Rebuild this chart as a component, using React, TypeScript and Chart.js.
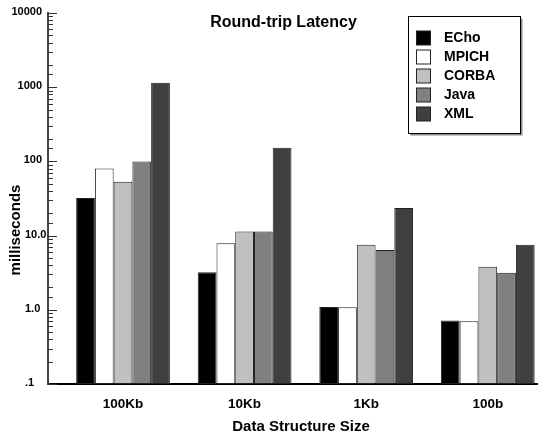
import { useEffect, useRef } from "react";
import { Chart, registerables } from "chart.js";

Chart.register(...registerables);

const categories = ["100Kb", "10Kb", "1Kb", "100b"];
const seriesNames = ["ECho", "MPICH", "CORBA", "Java", "XML"];
const echoValues = [32, 3.2, 1.09, 0.72];
const mpichValues = [80, 7.9, 1.08, 0.7];
const corbaValues = [53, 11.4, 7.5, 3.8];
const javaValues = [100, 11.4, 6.4, 3.16];
const xmlValues = [1150, 153, 23.5, 7.5];
const seriesColors = ["#000000", "#ffffff", "#c0c0c0", "#808080", "#404040"];
const yMajorLabels: [number, string][] = [
  [0.1, ".1"],
  [1, "1.0"],
  [10, "10.0"],
  [100, "100"],
  [1000, "1000"],
  [10000, "10000"],
];

const FONT = "'Liberation Sans', Arial, Helvetica, sans-serif";

function majorLabel(v: number): string | null {
  for (const [val, lab] of yMajorLabels) {
    if (Math.abs(v - val) / val < 1e-6) return lab;
  }
  return null;
}

const decorPlugin = {
  id: "decor",
  afterDraw(chart: any) {
    const ctx = chart.ctx as CanvasRenderingContext2D;
    const ys = chart.scales.y;
    const area = chart.chartArea;
    ctx.save();
    // inward tick marks on y axis
    ctx.strokeStyle = "#333";
    ctx.lineWidth = 1;
    ys.ticks.forEach((t: any) => {
      const py = Math.round(ys.getPixelForValue(t.value)) + 0.5;
      const major = majorLabel(t.value) !== null;
      ctx.beginPath();
      ctx.moveTo(area.left, py);
      ctx.lineTo(area.left + (major ? 9 : 5), py);
      ctx.stroke();
    });

    // y tick labels (integers right-aligned, decimals left-aligned)
    ctx.fillStyle = "#000";
    ctx.font = `bold 11px ${FONT}`;
    ctx.textBaseline = "middle";
    yMajorLabels.forEach(([val, lab]) => {
      const py = ys.getPixelForValue(val) - 1;
      if (lab.includes(".")) {
        ctx.textAlign = "left";
        ctx.fillText(lab, 25, py);
      } else {
        ctx.textAlign = "right";
        ctx.fillText(lab, 42, py);
      }
    });

    // title
    ctx.font = `bold 16px ${FONT}`;
    ctx.textAlign = "center";
    ctx.textBaseline = "alphabetic";
    ctx.fillText("Round-trip Latency", 283.5, 27);

    // y title
    ctx.save();
    ctx.translate(15.5, 230);
    ctx.rotate(-Math.PI / 2);
    ctx.font = `bold 15px ${FONT}`;
    ctx.textBaseline = "middle";
    ctx.fillText("milliseconds", 0, 0);
    ctx.restore();

    // x title
    ctx.font = `bold 15px ${FONT}`;
    ctx.textBaseline = "alphabetic";
    ctx.fillText("Data Structure Size", 301, 430.5);

    // legend
    const bx = 408.5, by = 16.5, bw = 112, bh = 117;
    ctx.fillStyle = "#888";
    ctx.fillRect(bx + 2, by + 2, bw, bh);
    ctx.fillStyle = "#fff";
    ctx.fillRect(bx, by, bw, bh);
    ctx.strokeStyle = "#000";
    ctx.lineWidth = 1;
    ctx.strokeRect(bx, by, bw, bh);
    ctx.font = `bold 14px ${FONT}`;
    ctx.textAlign = "left";
    ctx.textBaseline = "middle";
    chart.data.datasets.forEach((ds: any, i: number) => {
      const cy = 38 + i * 19;
      ctx.fillStyle = ds.backgroundColor;
      ctx.fillRect(416.5, cy - 7, 14, 14);
      ctx.strokeStyle = "#222";
      ctx.strokeRect(416.5, cy - 7, 14, 14);
      ctx.fillStyle = "#000";
      ctx.fillText(ds.label, 444, cy + 0.5);
    });
    ctx.restore();
  },
};

export default function App() {
  const ref = useRef<HTMLCanvasElement | null>(null);
  useEffect(() => {
    if (!ref.current) return;
    const allValues = [echoValues, mpichValues, corbaValues, javaValues, xmlValues];
    const chart = new Chart(ref.current, {
      type: "bar",
      data: {
        datasets: seriesNames.map((name, si) => ({
          label: name,
          data: allValues[si].map((v, i) => ({ x: i, y: v })),
          backgroundColor: seriesColors[si],
          borderColor: "#222",
          borderWidth: 1,
          borderSkipped: false,
          categoryPercentage: 0.771,
          barPercentage: 1,
        })),
      },
      options: {
        animation: false,
        responsive: false,
        devicePixelRatio: 1,
        layout: { padding: { top: 13, left: 0, right: 0, bottom: 0 } },
        plugins: {
          legend: { display: false },
          title: { display: false },
          tooltip: { enabled: false },
        },
        scales: {
          x: {
            type: "linear",
            offset: false,
            min: -0.617,
            max: 3.413,
            grid: { display: false, offset: false, drawTicks: false },
            border: { display: true, color: "#000", width: 2 },
            afterBuildTicks: (axis: any) => {
              axis.ticks = categories.map((_, i) => ({ value: i }));
            },
            afterFit: (axis: any) => {
              axis.height = 50;
            },
            ticks: {
              autoSkip: false,
              maxRotation: 0,
              padding: 12,
              color: "#000",
              font: { family: FONT, size: 13.5, weight: "bold" },
              callback: (v: any) => categories[Math.round(Number(v))] ?? "",
            },
          },
          y: {
            type: "logarithmic",
            min: 0.1,
            max: 10000,
            grid: { display: false, drawTicks: false },
            border: { display: true, color: "#444", width: 2 },
            afterFit: (axis: any) => {
              axis.width = 48;
            },
            ticks: {
              autoSkip: false,
              display: true,
              padding: 5,
              color: "rgba(0,0,0,0)",
              font: { family: FONT, size: 11, weight: "bold" },
              callback: (v: any) => majorLabel(Number(v)) ?? "",
            },
          },
        },
      } as any,
      plugins: [decorPlugin],
    });
    return () => chart.destroy();
  }, []);
  return (
    <div style={{ position: "absolute", left: 0, top: 0, width: 538, height: 434, background: "#fff" }}>
      <canvas ref={ref} width={538} height={434} style={{ display: "block" }} />
    </div>
  );
}
